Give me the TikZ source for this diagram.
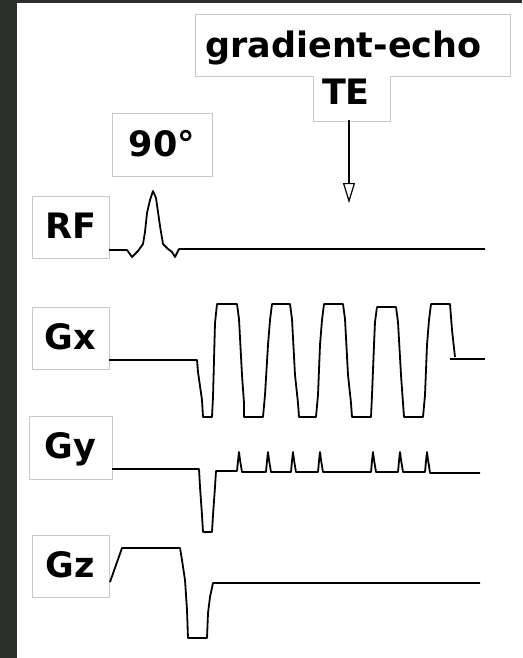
\documentclass[tikz,border=0pt]{standalone}
\usepackage{fontspec}
\setmainfont{DejaVu Sans}
\usetikzlibrary{arrows.meta}
\definecolor{frame}{RGB}{43,47,42}
\definecolor{boxgrey}{RGB}{200,200,200}
\tikzset{
  lbl/.style={font=\fontsize{35}{40}\selectfont\bfseries, inner sep=0pt},
  labelbox/.style={draw=boxgrey, line width=1pt, fill=white, inner sep=0pt,
    minimum width=77pt, minimum height=62pt, text height=26pt, text depth=4pt,
    font=\fontsize{35}{40}\selectfont\bfseries},
  boxline/.style={draw=boxgrey, line width=1pt},
  wave/.style={draw=black, line width=1.8pt, line join=round},
  pointer/.style={draw=black, line width=1.3pt,
    -{Triangle[open, length=20pt, width=12pt, line width=1.2pt]}}
}
\begin{document}
\begin{tikzpicture}[x=1pt, y=-1pt]
\useasboundingbox (0,0) rectangle (522,658);
\fill[frame] (0,0) rectangle (522,658);
\fill[white] (17,3) rectangle (522,658);

% gradient-echo / TE label
\draw[boxline, fill=white] (195,15) -- (510,15) -- (510,77) -- (390,77) -- (390,122)
  -- (313,122) -- (313,77) -- (195,77) -- cycle;
\node[lbl, anchor=base] (grad) at (343.5,58) {gradient-echo};
\node[lbl, anchor=base] (te) at (346,105) {TE};
\coordinate (tebot) at (349,120);
\coordinate (tip) at (349,203);
\draw[pointer] (tebot) -- (tip);

% 90 degree label
\node[labelbox, minimum width=100pt] (ninety) at (162,145) {90°};

% channel labels
\node[labelbox] (rf) at (70.5,227) {RF};
\node[labelbox] (gx) at (70.5,338.5) {Gx};
\node[labelbox, minimum width=83pt, minimum height=63pt] (gy) at (70.5,447.5) {Gy};
\node[labelbox] (gz) at (70.5,566) {Gz};

% RF
\draw[wave] (109,250) -- (127,250) -- (132,257) -- (138,251) -- (143,244) -- (145,232)
  -- (147,213) -- (150,200) -- (153,191) -- (156,198) -- (158,212) -- (160,226)
  -- (163,244) -- (168,249) -- (172,252) -- (175,257) -- (179,249) -- (485,249);

% Gx
\draw[wave] (109,360) -- (197,360) -- (198,372) -- (202,400) -- (203,417) -- (212,417)
  -- (213,397) -- (215,323) -- (217,304) -- (237,304)
  -- (239,319) -- (242,375) -- (244,403) -- (244,417) -- (263,417)
  -- (265,395) -- (268,345) -- (270,320) -- (272,304) -- (290,304)
  -- (292,319) -- (295,375) -- (298,403) -- (299,417) -- (316,417)
  -- (318,395) -- (320,345) -- (322,320) -- (324,304) -- (343,304)
  -- (345,319) -- (348,375) -- (351,403) -- (352,417) -- (371,417)
  -- (372,395) -- (374,345) -- (375,322) -- (377,307) -- (396,307)
  -- (398,322) -- (401,375) -- (403,403) -- (404,417) -- (423,417)
  -- (425,395) -- (427,345) -- (429,320) -- (431,304) -- (450,304)
  -- (452,330) -- (455,357);
\draw[wave] (450,359) -- (485,359);

% Gy
\draw[wave] (112,469) -- (199,469) -- (200,487) -- (202,515) -- (203,532) -- (212,532)
  -- (213,515) -- (215,487) -- (216,471) -- (237,471)
  -- (238,461) -- (239,452) -- (240,460) -- (241,466) -- (242,472) -- (266,472)
  -- (267,461) -- (268,452) -- (269,460) -- (270,466) -- (271,472) -- (291,472)
  -- (292,461) -- (293,452) -- (294,460) -- (295,466) -- (296,472) -- (318,472)
  -- (319,461) -- (320,452) -- (321,460) -- (322,466) -- (323,472) -- (371,472)
  -- (372,461) -- (373,452) -- (374,460) -- (375,466) -- (376,472) -- (398,472)
  -- (399,461) -- (400,452) -- (401,460) -- (402,466) -- (403,472) -- (425,472)
  -- (426,461) -- (427,452) -- (428,460) -- (429,466) -- (430,473) -- (480,473);

% Gz
\draw[wave] (110,582) -- (122,548) -- (180,548) -- (182,560) -- (185,580) -- (187,610)
  -- (188,638) -- (207,638) -- (208,613) -- (210,597) -- (213,583) -- (480,583);
\end{tikzpicture}
\end{document}
